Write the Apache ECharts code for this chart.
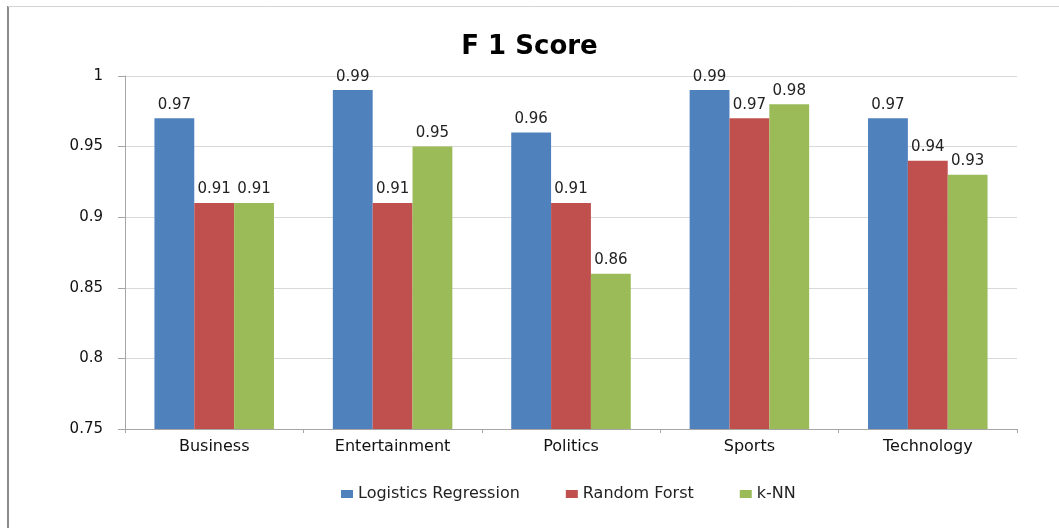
<!DOCTYPE html>
<html>
<head>
<meta charset="utf-8">
<script src="https://cdn.jsdelivr.net/npm/echarts@6/dist/echarts.min.js"></script>
<style>
  html, body { margin: 0; padding: 0; background: #fff; }
  #chart { width: 1059px; height: 528px; }
</style>
</head>
<body>
<div id="chart"></div>
<script>
// F1 score per news category for three classifiers
const categories = ['Business', 'Entertainment', 'Politics', 'Sports', 'Technology'];
const logisticsRegression = [0.97, 0.99, 0.96, 0.99, 0.97];
const randomForst = [0.91, 0.91, 0.91, 0.97, 0.94];
const kNN = [0.91, 0.95, 0.86, 0.98, 0.93];
const seriesNames = ['Logistics Regression', 'Random Forst', 'k-NN'];
const colors = ['#4F81BD', '#C0504D', '#9BBB59'];

const FONT = 'DejaVu Sans';

function barSeries(name, data, color) {
  return {
    name: name,
    type: 'bar',
    data: data,
    barGap: '0%',
    barCategoryGap: '33%',
    itemStyle: { color: color },
    label: {
      show: true,
      position: 'top',
      distance: 6,
      color: '#222',
      fontFamily: FONT,
      fontSize: 15,
      formatter: p => p.value.toFixed(2)
    }
  };
}

const chart = echarts.init(document.getElementById('chart'), null, { renderer: 'canvas' });
chart.setOption({
  backgroundColor: '#fff',
  animation: false,
  color: colors,
  title: {
    text: 'F 1 Score',
    left: 'center',
    top: 29,
    textStyle: { fontFamily: FONT, fontSize: 26, fontWeight: 'bold', color: '#000' }
  },
  graphic: [
    { type: 'line', shape: { x1: 8, y1: 6, x2: 8, y2: 528 }, style: { stroke: '#8c8c8c', lineWidth: 2 } },
    { type: 'line', shape: { x1: 8, y1: 6.5, x2: 1059, y2: 6.5 }, style: { stroke: '#d4d4d4', lineWidth: 1 } }
  ],
  grid: { left: 125, right: 42, top: 76, bottom: 99, containLabel: false },
  legend: {
    bottom: 21,
    left: 336,
    itemWidth: 12,
    itemHeight: 8,
    itemGap: 46,
    icon: 'rect',
    textStyle: { fontFamily: FONT, fontSize: 16, color: '#222' },
    data: seriesNames
  },
  xAxis: {
    type: 'category',
    data: categories,
    axisLine: { lineStyle: { color: '#a6a6a6' } },
    axisTick: { show: true, alignWithLabel: false, length: 4, lineStyle: { color: '#a6a6a6' } },
    axisLabel: { fontFamily: FONT, fontSize: 16, color: '#111', margin: 10 }
  },
  yAxis: {
    type: 'value',
    min: 0.75,
    max: 1,
    interval: 0.05,
    axisLine: { show: true, lineStyle: { color: '#a6a6a6' } },
    axisTick: { show: true, length: 7, lineStyle: { color: '#a6a6a6' } },
    splitLine: { lineStyle: { color: '#d9d9d9' } },
    axisLabel: {
      fontFamily: FONT,
      fontSize: 15,
      color: '#111',
      margin: 22,
      formatter: v => String(parseFloat(v.toFixed(2)))
    }
  },
  series: [
    barSeries(seriesNames[0], logisticsRegression, colors[0]),
    barSeries(seriesNames[1], randomForst, colors[1]),
    barSeries(seriesNames[2], kNN, colors[2])
  ]
});
</script>
</body>
</html>
